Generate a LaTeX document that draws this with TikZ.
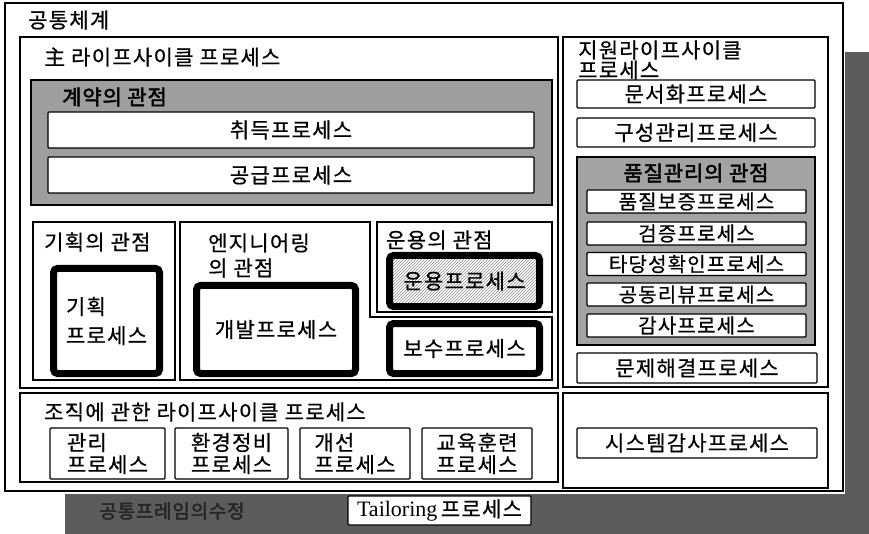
\documentclass[tikz,border=0pt]{standalone}
\usepackage{fontspec}
\setmainfont{Noto Sans CJK KR}[LetterSpace=6,FakeBold=0.6]
\newfontfamily\krbold{Noto Sans CJK KR}[LetterSpace=4,FakeBold=2.2]
\newfontfamily\tnr{Liberation Serif}
\usetikzlibrary{patterns}
\newcommand{\myfs}{\fontsize{21}{23}\selectfont}
\newcommand{\myfss}{\fontsize{20}{22}\selectfont}
\definecolor{shadowgray}{gray}{0.36}
\definecolor{cgray}{gray}{0.62}
\definecolor{qgray}{gray}{0.64}
\begin{document}
\begin{tikzpicture}[x=1pt,y=-1pt,
  line/.style={draw=black,line width=1.1pt},
  pbox/.style={draw=black,line width=1.1pt,fill=white,rounded corners=1pt,inner sep=0pt,font=\myfs},
  tbox/.style={draw=black,line width=7pt,fill=white,rounded corners=4pt,inner sep=0pt,font=\myfs},
  lbl/.style={inner sep=0pt,anchor=west,font=\myfs,align=left},
  obox/.style={pbox,minimum height=51pt,align=left,font=\fontsize{21}{22}\selectfont},
  qbox/.style={pbox,minimum width=219pt,minimum height=23pt,font=\myfss},
]
\useasboundingbox (0,0) rectangle (869,534);
\fill[white] (0,0) rectangle (869,534);
% shadows
\fill[shadowgray] (845,52) rectangle (869,534);
\fill[shadowgray] (65,494) rectangle (869,534);
\node[inner sep=0pt,font=\krbold\fontsize{19}{21}\selectfont,text=black!85] (sujeong) at (172,511) {공통프레임의수정};
\node[pbox,minimum width=183pt,minimum height=29pt] (tailor) at (439.5,510.5) {{\tnr\fontsize{22}{24}\selectfont Tailoring}\,프로세스};
% outer frame
\draw[line,line width=1.3pt,fill=white] (5,3) rectangle (843,491);
\node[lbl] (common) at (28,20) {공통체계};
% main lifecycle
\draw[line] (20,37) rectangle (558,388);
\node[lbl] (mainT) at (44,57) {主 라이프사이클 프로세스};
\draw[line,fill=cgray] (31,80) rectangle (552,205);
\node[lbl,font=\krbold\myfs] (contractT) at (62,97) {계약의 관점};
\node[pbox,minimum width=486pt,minimum height=36pt] (chwideuk) at (291,130) {취득프로세스};
\node[pbox,minimum width=486pt,minimum height=36pt] (gonggeup) at (291,175) {공급프로세스};
% planning
\draw[line] (33,222) rectangle (175,380);
\node[lbl] (planT) at (44,242) {기획의 관점};
\node[tbox,minimum width=106pt,minimum height=105pt,align=left,font=\fontsize{21}{29}\selectfont] (plan) at (106.5,321) {기획\\프로세스};
% engineering
\draw[line] (180,222) -- (370,222) -- (370,317) -- (552,317) -- (552,380) -- (180,380) -- cycle;
\node[lbl,font=\fontsize{21}{25}\selectfont] (engT) at (208,255.5) {엔지니어링\\의 관점};
\node[tbox,minimum width=159pt,minimum height=88pt] (dev) at (276,329.5) {개발프로세스};
% operation
\draw[line] (377,222) rectangle (552,312);
\node[lbl] (opT) at (386,240) {운용의 관점};
\node[tbox,preaction={fill=white},pattern=north east lines,pattern color=black!45,minimum width=150pt,minimum height=51pt] (oper) at (464.5,281) {운용프로세스};
\node[tbox,minimum width=150pt,minimum height=50pt] (maint) at (464.5,348.5) {보수프로세스};
% support lifecycle
\draw[line] (563,37) rectangle (828,387);
\node[lbl,font=\fontsize{21}{17}\selectfont] (supT) at (578,60) {지원라이프사이클\\프로세스};
\node[pbox,minimum width=238pt,minimum height=28pt] (doc) at (696,94) {문서화프로세스};
\node[pbox,minimum width=238pt,minimum height=29pt] (config) at (696,132.5) {구성관리프로세스};
\draw[line,fill=qgray] (577,157) rectangle (815,345);
\node[inner sep=0pt,font=\krbold\myfs] (qualT) at (696,173) {품질관리의 관점};
\node[qbox] (qa) at (696.5,201.5) {품질보증프로세스};
\node[qbox] (verif) at (696.5,233.5) {검증프로세스};
\node[qbox] (valid) at (696.5,264) {타당성확인프로세스};
\node[qbox] (review) at (696.5,294.5) {공동리뷰프로세스};
\node[qbox] (audit) at (696.5,325.5) {감사프로세스};
\node[pbox,minimum width=240pt,minimum height=30pt] (problem) at (697,368) {문제해결프로세스};
% lower right
\draw[line] (563,393) rectangle (828,488);
\node[pbox,minimum width=240pt,minimum height=30pt] (sysaudit) at (697,443) {시스템감사프로세스};
% organizational
\draw[line] (20,393) rectangle (558,482);
\node[lbl] (orgT) at (44,412) {조직에 관한 라이프사이클 프로세스};
\node[obox,minimum width=115pt] (mgmt) at (107.5,453.5) {관리\\프로세스};
\node[obox,minimum width=113pt] (infra) at (231.5,453.5) {환경정비\\프로세스};
\node[obox,minimum width=110pt] (improve) at (355,453.5) {개선\\프로세스};
\node[obox,minimum width=110pt] (train) at (477,453.5) {교육훈련\\프로세스};
\end{tikzpicture}
\end{document}
